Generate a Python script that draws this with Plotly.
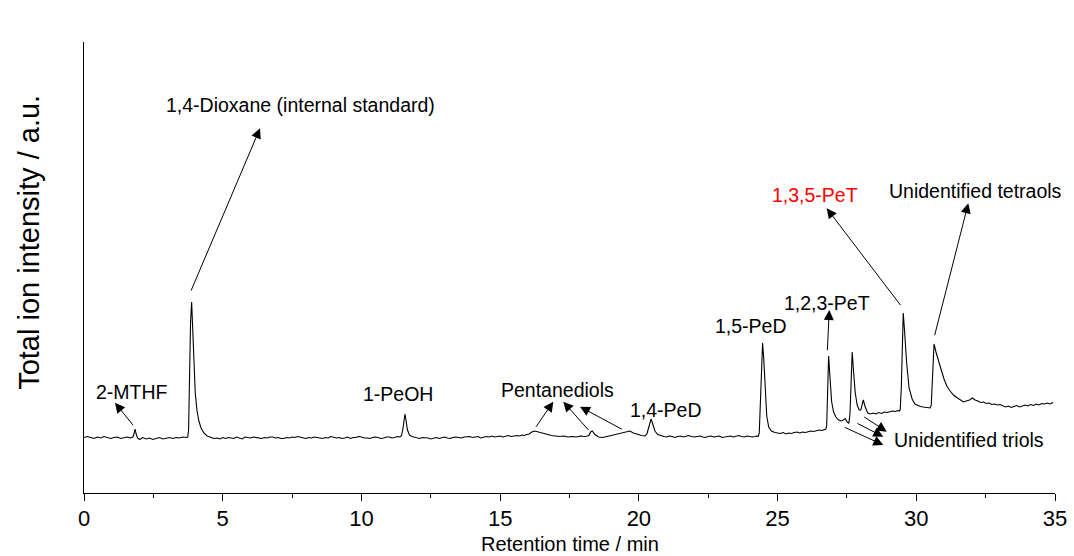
import plotly.graph_objects as go

# ---------------- data ----------------
retention_time = [
    0.00, 0.12, 0.24, 0.36, 0.48, 0.60, 0.72, 0.84, 0.96, 1.08, 1.20, 1.32, 1.44, 1.56, 1.68,
    1.76, 1.80, 1.84, 1.88, 1.93, 2.00, 2.12, 2.24, 2.36, 2.48, 2.60, 2.72, 2.84, 2.96, 3.08,
    3.20, 3.32, 3.44, 3.56, 3.68, 3.74,
    3.77, 3.80, 3.84, 3.88, 3.92, 3.96, 4.01, 4.07, 4.14, 4.22, 4.32, 4.44, 4.56, 4.68,
    4.80, 4.90, 5.00, 5.10, 5.20, 5.30, 5.40, 5.50, 5.60, 5.70, 5.80, 5.90, 6.00, 6.10, 6.20,
    6.30, 6.40, 6.50, 6.60, 6.70, 6.80, 6.90, 7.00, 7.10, 7.20, 7.30, 7.40, 7.50, 7.60, 7.70,
    7.80, 7.90, 8.00, 8.10, 8.20, 8.30, 8.40, 8.50, 8.60, 8.70, 8.80, 8.90, 9.00, 9.10, 9.20,
    9.30, 9.40, 9.50, 9.60, 9.70, 9.80, 9.90, 10.00, 10.10, 10.20, 10.30, 10.40, 10.50,
    10.60, 10.70, 10.80, 10.90, 11.00, 11.10, 11.20, 11.30, 11.38,
    11.44, 11.49, 11.53, 11.57, 11.61, 11.66, 11.73, 11.82, 11.95,
    12.10, 12.20, 12.30, 12.40, 12.50, 12.60, 12.70, 12.80, 12.90, 13.00, 13.10, 13.20, 13.30,
    13.40, 13.50, 13.60, 13.70, 13.80, 13.90, 14.00, 14.10, 14.20, 14.30, 14.40, 14.50, 14.60,
    14.70, 14.80, 14.90, 15.00, 15.10, 15.20, 15.30, 15.40, 15.50, 15.60, 15.70, 15.80, 15.88,
    15.95, 16.05, 16.14, 16.25, 16.38, 16.55, 16.70, 16.85, 17.00, 17.15, 17.30, 17.45, 17.60,
    17.75, 17.90, 18.05, 18.15, 18.21, 18.26, 18.32, 18.42, 18.55, 18.70, 18.85, 19.00, 19.15,
    19.30, 19.45, 19.56, 19.68, 19.80, 19.95, 20.10, 20.22, 20.29, 20.34, 20.39, 20.44, 20.50,
    20.58, 20.68, 20.80,
    20.90, 21.00, 21.10, 21.20, 21.30, 21.40, 21.50, 21.60, 21.70, 21.80, 21.90, 22.00, 22.10,
    22.20, 22.30, 22.40, 22.50, 22.60, 22.70, 22.80, 22.90, 23.00, 23.10, 23.20, 23.30, 23.40,
    23.50, 23.60, 23.70, 23.80, 23.90, 24.00, 24.10, 24.18, 24.25,
    24.30, 24.34, 24.38, 24.42, 24.46, 24.50, 24.55, 24.61, 24.68, 24.78, 24.90,
    25.00, 25.10, 25.20, 25.30, 25.40, 25.50, 25.60, 25.70, 25.80, 25.90, 26.00, 26.10, 26.20,
    26.30, 26.40, 26.50, 26.60, 26.68,
    26.74, 26.77, 26.80, 26.84, 26.89, 26.95, 27.02, 27.10, 27.20, 27.30, 27.37, 27.44, 27.51,
    27.57, 27.61, 27.65, 27.69, 27.74, 27.80, 27.87, 27.94, 28.00, 28.04, 28.09, 28.16, 28.25,
    28.35, 28.45, 28.55, 28.65, 28.75, 28.85, 28.95, 29.05, 29.15, 29.25, 29.33, 29.38,
    29.42, 29.46, 29.49, 29.53, 29.58, 29.65, 29.74, 29.85, 29.95, 30.05, 30.15, 30.25, 30.35,
    30.44, 30.50, 30.54, 30.59, 30.64, 30.71, 30.80, 30.90, 31.00, 31.10, 31.22, 31.34, 31.46,
    31.58, 31.70, 31.80, 31.92, 32.02, 32.12, 32.22, 32.32, 32.42, 32.52, 32.62, 32.72, 32.82,
    32.92, 33.02, 33.12, 33.22, 33.32, 33.42, 33.52, 33.62, 33.72, 33.82, 33.92, 34.02, 34.12,
    34.22, 34.32, 34.42, 34.52, 34.62, 34.72, 34.82, 34.93,
]

intensity = [
    0.5, 1.5, 0.5, -0.5, 1, 0, 1.5, 0.5, -0.5, 0.5, 1, -0.5, 0.5, 1, 0,
    1, 4, 9, 4, 0, -1.5, 0.5, -1, 0, -1.5, -0.5, 0.5, -1, 0, 0.5,
    -0.5, 0.5, 0, 1, 0.5, 1,
    8, 55, 115, 136, 112, 75, 45, 28, 17, 10, 5, 2, 1, -0.5,
    0, -1, 0.5, -0.5, 0.5, 0, -0.5, 1, 0, -1, 1, 0.5, 0, 1, 0.5,
    -0.5, -0.5, 0.5, 0, 1, 1, 0, 0.5, -0.5, -0.5, 0.5, 0, 1, 0.5, 1.5,
    1, 0, -0.5, 0.5, 0, 1, 0.5, -0.5, -0.5, 0.5, 0, 1.5, 1, 0, 0.5,
    -0.5, 0, 1, -0.5, 0.5, 0.5, 1.5, 1, 0, 0, -0.5, 0.5, 1,
    0.5, -0.5, 0, 1, 1, 0, 0.5, 1.5, 1,
    2, 8, 18, 24, 17, 8, 3, 1.5, 0.5,
    -0.5, 0.5, 0.5, 0, -1, 0, 0.5, -0.5, 0.5, 1, 0, -0.5, 0.5,
    1, 0.5, 0, 1, 1.5, 1.5, 0.5, 1, 1.5, 0, 1, 1.5, 1, 2,
    1, 1.5, 2, 1, 2, 2.5, 1.5, 2, 2.5, 2, 3, 2.5, 3.5,
    4, 6, 7, 6, 4.5, 4, 2.5, 2, 1.5, 2, 1, 1.5, 1,
    2, 1.5, 2, 3, 6, 7, 3.5, 1, 0.5, 1.5, 2, 3, 4.5,
    5, 6.5, 7, 5, 3.5, 2.5, 2, 4, 9, 15, 19, 14, 7,
    3.5, 2, 1.5,
    1, 2, 1.5, 0.5, 1.5, 2, 1, 1.5, 2.5, 1.5, 1, 1.5, 2,
    1, 0.5, 1.5, 2, 1, 1.5, 2, 0.5, 1, 1.5, 2, 1, 1.5,
    2.5, 1.5, 1, 2, 1.5, 1, 1.5, 2, 1.5,
    5, 35, 75, 95, 80, 45, 22, 11, 7, 5.5, 5,
    4.5, 5.5, 4, 5, 4.5, 5.5, 6, 5, 6, 5.5, 6.5, 7, 6.5,
    7.5, 8, 7.5, 8.5, 9,
    12, 50, 82, 60, 36, 26, 21, 18, 17, 18, 19.5, 16, 15,
    24, 60, 86, 66, 45, 33, 28, 28, 34, 38, 31, 25, 24,
    25, 24, 25.5, 24.5, 26, 25.5, 26, 27, 26.5, 27.5, 27, 28,
    50, 100, 125, 106, 76, 50, 39, 34, 32.5, 31.5, 31, 30.5, 30,
    30, 33, 60, 94, 86, 76, 68, 59, 52, 47, 43, 40.5, 38,
    36, 37, 38, 40, 38, 37, 35.5, 36, 34.5, 35, 33.5, 34, 33,
    33.5, 32, 31, 32, 30.5, 31.5, 32.5, 31, 32, 33, 32, 33.5, 32.5,
    34, 33, 34.5, 34, 35, 34, 35.5, 35,
]

x_tick_values = [0, 5, 10, 15, 20, 25, 30, 35]
x_tick_labels = ["0", "5", "10", "15", "20", "25", "30", "35"]

x_title = "Retention time / min"
y_title = "Total ion intensity / a.u."

# label text, label position (time, intensity), colour
label_texts = ["2-MTHF", "1,4-Dioxane (internal standard)", "1-PeOH", "Pentanediols",
               "1,4-PeD", "1,5-PeD", "1,2,3-PeT", "1,3,5-PeT",
               "Unidentified tetraols", "Unidentified triols"]
label_x = [1.73, 7.82, 11.32, 17.085, 20.98, 24.04, 26.78, 26.35, 32.12, 31.9]
label_y = [46, 333, 44, 48.5, 28.5, 112, 135, 243.5, 247, -2]
label_colors = ["black"] * 7 + ["red"] + ["black"] * 2

# arrows: head (x, y) and tail (ax, ay) in data units
arrow_head_x = [1.117, 6.344, 16.916, 17.277, 17.879, 26.864, 26.771, 31.875, 28.811, 28.811, 28.934]
arrow_head_y = [35.3, 309.7, 36.3, 36.3, 31.3, 128, 229.7, 234.7, -7, 1.3, 6.3]
arrow_tail_x = [1.813, 3.839, 16.256, 18.239, 19.439, 26.792, 29.474, 30.649, 27.369, 27.826, 28.068]
arrow_tail_y = [11.3, 146, 9.7, 6.3, 8, 86.3, 131.3, 101.3, 11.3, 15.3, 22]

FONT = "Liberation Sans, Arial, sans-serif"

fig = go.Figure()
fig.add_trace(go.Scatter(
    x=retention_time, y=intensity, mode="lines",
    line=dict(color="black", width=1.1), showlegend=False, hoverinfo="skip",
))

annotations = []
for hx, hy, tx, ty in zip(arrow_head_x, arrow_head_y, arrow_tail_x, arrow_tail_y):
    annotations.append(dict(
        x=hx, y=hy, xref="x", yref="y", ax=tx, ay=ty, axref="x", ayref="y",
        text="", showarrow=True, arrowhead=2, arrowsize=2, arrowwidth=1,
        arrowcolor="black", standoff=0, startstandoff=0,
    ))
for txt, lx, ly, col in zip(label_texts, label_x, label_y, label_colors):
    annotations.append(dict(
        x=lx, y=ly, xref="x", yref="y", text=txt, showarrow=False,
        font=dict(family=FONT, size=19.5, color=col),
        xanchor="center", yanchor="middle",
    ))

# axis titles placed as paper-anchored texts
annotations.append(dict(
    x=0.5, y=-0.113, xref="paper", yref="paper", text=x_title, showarrow=False,
    font=dict(family=FONT, size=20, color="black"), xanchor="center", yanchor="middle",
))
annotations.append(dict(
    x=-0.056, y=0.556, xref="paper", yref="paper", text=y_title, showarrow=False,
    textangle=-90, font=dict(family=FONT, size=29, color="black"),
    xanchor="center", yanchor="middle",
))

fig.update_layout(
    width=1074, height=556,
    margin=dict(l=84, r=19, t=42, b=63),
    paper_bgcolor="white", plot_bgcolor="white",
    font=dict(family=FONT, color="black"),
    annotations=annotations,
    xaxis=dict(
        range=[0, 35], showgrid=False, zeroline=False, automargin=False,
        showline=True, linecolor="black", linewidth=1.3,
        tickmode="array", tickvals=x_tick_values, ticktext=x_tick_labels,
        ticks="outside", ticklen=7, tickwidth=1.2, tickcolor="black",
        ticklabelstandoff=-2,
        minor=dict(dtick=2.5, ticks="outside", ticklen=4, tickwidth=1.2, tickcolor="black"),
        tickfont=dict(family=FONT, size=22, color="black"),
    ),
    yaxis=dict(
        range=[-55, 396], showgrid=False, zeroline=False, automargin=False,
        showline=True, linecolor="black", linewidth=1.3,
        showticklabels=False, ticks="",
    ),
)

fig.write_html("out.html")
